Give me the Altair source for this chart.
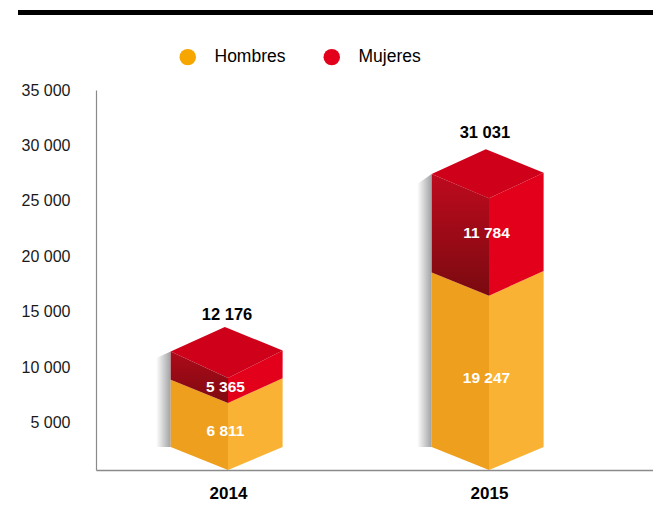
import altair as alt
import pandas as pd

# ---- values printed on the chart
years = [2014, 2015]
hombres = [6811, 19247]
mujeres = [5365, 11784]
totales = [12176, 31031]
series = ["Hombres", "Mujeres"]
y_ticks = [5000, 10000, 15000, 20000, 25000, 30000, 35000]

# ---- drawn heights of the pseudo-3D boxes, read against the y axis
# (the drawing is not proportional to the printed numbers)
base_front = [765, 765]
base_side = [2840, 2840]
junction_left = [8900, 18550]
junction_right = [9030, 18700]
junction_front = [6800, 16470]
top_left = [11450, 27430]
top_right = [11530, 27550]
top_front = [9050, 25240]
top_back = [13650, 29660]
shadow_top = [10850, 26530]
label_h = [4280, 9050]
label_m = [8240, 22120]
label_t = [14720, 31120]

gradient_top = ["#AE0A1A", "#BE0A1E"]
gradient_bottom = ["#7E0A10", "#7A0A10"]

PX = 261.0  # pixels per year on the x scale
LEFT, RIGHT, BACK, SHADOW = -57.3 / PX, 54.6 / PX, -3.2 / PX, -14.5 / PX
LABEL_DX = -2.5 / PX
TOTAL_DX = [-1.0 / PX, -4.1 / PX]

FONT = "Liberation Sans"
ORANGE_L, ORANGE_R = "#EE9F1E", "#F9B233"
RED_TOP, RED_R = "#CF0019", "#E2001A"

faces = []


def face(name, fill, pts):
    for x, upper, lower in pts:
        faces.append(dict(face=name, fill=fill, x=x, y=upper, y2=lower))


def lerp(a, b, t):
    return a + (b - a) * t


shadow_rows, grad_rows = [], []
for i, yr in enumerate(years):
    xl, xc, xr, xb = yr + LEFT, yr, yr + RIGHT, yr + BACK
    # orange faces
    face(f"{yr}hl", ORANGE_L, [(xl, junction_left[i], base_side[i]), (xc, junction_front[i], base_front[i])])
    face(f"{yr}hr", ORANGE_R, [(xc, junction_front[i], base_front[i]), (xr, junction_right[i], base_side[i])])
    # red right face
    face(f"{yr}mr", RED_R, [(xc, top_front[i], junction_front[i]), (xr, top_right[i], junction_right[i])])
    # red top rhombus
    t_b = (xb - xl) / (xc - xl)
    t_c = (xc - xb) / (xr - xb)
    face(f"{yr}mt", RED_TOP, [
        (xl, top_left[i], top_left[i]),
        (xb, top_back[i], lerp(top_left[i], top_front[i], t_b)),
        (xc, lerp(top_back[i], top_right[i], t_c), top_front[i]),
        (xr, top_right[i], top_right[i]),
    ])
    grad_rows.append(pd.DataFrame([
        dict(x=xl, y=top_left[i], y2=junction_left[i]),
        dict(x=xc, y=top_front[i], y2=junction_front[i]),
    ]))
    shadow_rows += [
        dict(face=yr, x=xl + SHADOW, y=shadow_top[i], y2=base_side[i]),
        dict(face=yr, x=xl, y=top_left[i], y2=base_side[i]),
    ]

faces_df = pd.DataFrame(faces)
shadow_df = pd.DataFrame(shadow_rows)

x_scale = alt.Scale(domain=[2014 - 132 / PX, 2014 + 425 / PX], nice=False, zero=False)
y_scale = alt.Scale(domain=[765, 35000], nice=False, zero=False)
X = alt.X("x:Q", scale=x_scale, title=None,
          axis=alt.Axis(values=years, format="d", ticks=False, grid=False, domainColor="#8a8a8a",
                        domainWidth=1.5, labelFont=FONT, labelFontSize=17, labelFontWeight="bold",
                        labelColor="#000000", labelPadding=15, labelBound=False, labelFlush=False))
Y = alt.Y("y:Q", scale=y_scale, title=None,
          axis=alt.Axis(values=y_ticks, ticks=False, grid=False, domainColor="#8a8a8a", domainWidth=1.2,
                        labelFont=FONT, labelFontSize=16, labelColor="#1a1a1a", labelPadding=26,
                        labelBound=False, labelFlush=False,
                        labelExpr="replace(format(datum.value, ','), ',', ' ')"))

base_enc = dict(x=X, y=Y, y2="y2:Q")

shadow = alt.Chart(shadow_df).mark_area(
    color=alt.Gradient(gradient="linear", x1=0, x2=1, y1=0, y2=0,
                       stops=[alt.GradientStop(color="#ffffff", offset=0),
                              alt.GradientStop(color="#a0a1a3", offset=1)])
).encode(detail="face:N", **base_enc)

solid = alt.Chart(faces_df).mark_area(opacity=1).encode(
    detail="face:N", fill=alt.Fill("fill:N", scale=None), **base_enc)

grads = [
    alt.Chart(grad_rows[i]).mark_area(
        color=alt.Gradient(gradient="linear", x1=0, x2=0, y1=0, y2=1,
                           stops=[alt.GradientStop(color=gradient_top[i], offset=0),
                                  alt.GradientStop(color=gradient_bottom[i], offset=1)])
    ).encode(**base_enc)
    for i in range(len(years))
]


def fmt(v):
    return f"{v:,}".replace(",", " ")


labels_df = pd.DataFrame(
    [dict(x=y + LABEL_DX, y=label_h[i], t=fmt(hombres[i])) for i, y in enumerate(years)]
    + [dict(x=y + LABEL_DX, y=label_m[i], t=fmt(mujeres[i])) for i, y in enumerate(years)]
)
totals_df = pd.DataFrame(
    [dict(x=y + TOTAL_DX[i], y=label_t[i], t=fmt(totales[i])) for i, y in enumerate(years)]
)
inner = alt.Chart(labels_df).mark_text(font=FONT, fontSize=15.5, fontWeight="bold", color="#ffffff").encode(
    x=alt.X("x:Q", scale=x_scale), y=alt.Y("y:Q", scale=y_scale), text="t:N")
outer = alt.Chart(totals_df).mark_text(font=FONT, fontSize=16.5, fontWeight="bold", color="#000000").encode(
    x=alt.X("x:Q", scale=x_scale), y=alt.Y("y:Q", scale=y_scale), text="t:N")

rule_df = pd.DataFrame({"k": ["top"]})
top_rule = alt.Chart(rule_df).mark_rect(color="#000000").encode(
    x=alt.value(-78), x2=alt.value(557), y=alt.value(-80), y2=alt.value(-75))

legend_df = pd.DataFrame({"serie": series, "x": [2014, 2015], "y": [765, 765]})
legend_layer = alt.Chart(legend_df).mark_circle(size=0, opacity=1).encode(
    x=alt.X("x:Q", scale=x_scale), y=alt.Y("y:Q", scale=y_scale),
    color=alt.Color("serie:N", title=None,
                    scale=alt.Scale(domain=series, range=["#F7A600", "#E3001B"]),
                    legend=alt.Legend(orient="none", direction="horizontal", legendX=83, legendY=-42,
                                      symbolType="circle", symbolSize=270, symbolStrokeWidth=0,
                                      symbolOpacity=1, labelFont=FONT, labelFontSize=17.5,
                                      labelColor="#000000", labelOffset=18, columnPadding=37,
                                      padding=0)),
)

chart = alt.layer(shadow, solid, *grads, inner, outer, top_rule, legend_layer).properties(
    width=557, height=380,
    padding={"left": 88, "top": 82, "right": 0, "bottom": 31},
    autosize=alt.AutoSizeParams(type="none"),
    background="#ffffff",
).configure_view(stroke=None)

chart.save("out.html", embed_options={"renderer": "svg", "actions": False})
